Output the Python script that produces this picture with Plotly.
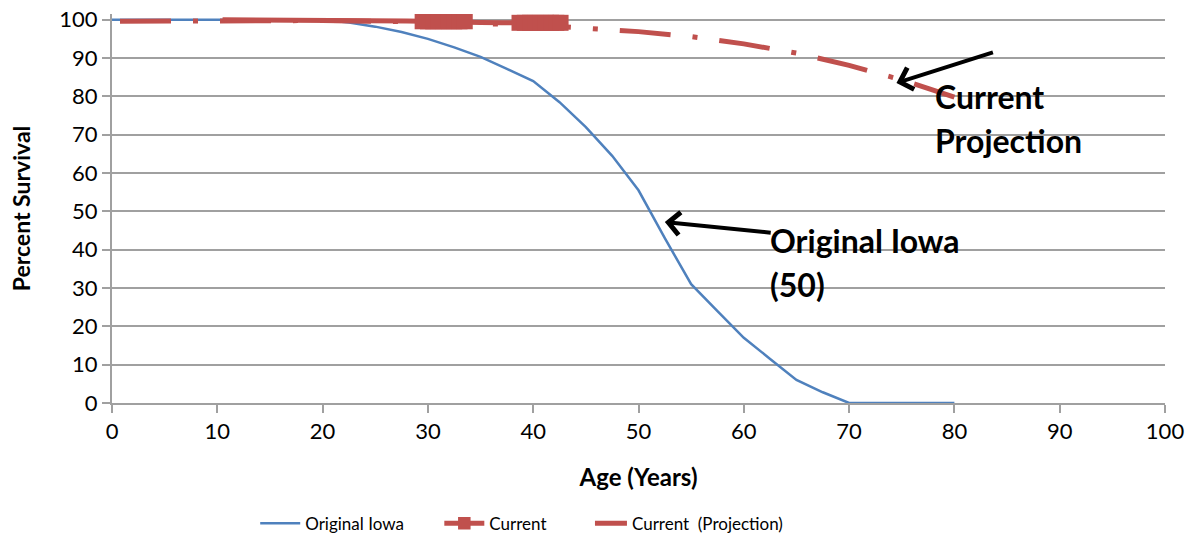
import plotly.graph_objects as go

# Original Iowa (50) curve
iowa_age = [0, 20, 22.5, 25, 27.5, 30, 32.5, 35, 37.5, 40, 42.5, 45, 47.5, 50,
            52.5, 55, 57.5, 60, 62.5, 65, 67.5, 70, 80]
iowa_pct = [100, 100, 99.3, 98.2, 96.8, 95, 92.8, 90.3, 87.2, 84, 78.5, 72, 64.5, 55.5,
            43, 31, 24, 17, 11.5, 6, 2.8, 0, 0]

# Current (observed) curve
current_age = [10.5, 27, 28, 29.5, 30, 30.5, 31, 31.5, 32, 32.5, 33, 33.5, 35, 37,
               38.7, 39.2, 39.7, 40.2, 40.7, 41.2, 41.7, 42.2, 42.6]
current_pct = [100, 100, 99.7, 99.6, 99.6, 99.6, 99.6, 99.6, 99.6, 99.6, 99.6, 99.6, 99.3, 99.2,
               99.2, 99.2, 99.2, 99.2, 99.2, 99.2, 99.2, 99.2, 99.2]

# Current (Projection) curve
proj_age = [0, 10, 20, 30, 40, 45, 50, 55, 60, 65, 70, 75, 80]
proj_pct = [99.6, 99.8, 99.8, 99.4, 98.6, 97.8, 96.9, 95.6, 93.7, 91.3, 88.1, 84.3, 79.8]

BLUE = '#4F81BD'
RED = '#C0504D'
GRID = '#A0A0A0'
FONT = 'Lato'
PAD = '\u00a0' * 7  # spacing between legend entries

# only the dense stretches of the Current series show their square markers
marker_sizes = [16 if (29 <= a <= 34 or 38.5 <= a <= 43) else 0 for a in current_age]

fig = go.Figure()
fig.add_trace(go.Scatter(x=iowa_age, y=iowa_pct, mode='lines', name='Original Iowa' + PAD,
                         legendrank=1, line=dict(color=BLUE, width=2.5)))
fig.add_trace(go.Scatter(x=proj_age, y=proj_pct, mode='lines', name='Current\u00a0\u00a0(Projection)',
                         legendrank=3,
                         line=dict(color=RED, width=5, dash='0px,8px,51px,22px,5px,14px')))
fig.add_trace(go.Scatter(x=current_age, y=current_pct, mode='lines+markers', name='Current' + PAD,
                         legendrank=2, line=dict(color=RED, width=5),
                         marker=dict(symbol='square', color=RED, size=marker_sizes, opacity=1,
                                     line=dict(width=0))))

ann_font = dict(family=FONT, size=32, color='black')
annotations = [
    dict(x=74.5, y=83.5, ax=83.8, ay=91.6, axref='x', ayref='y', xref='x', yref='y',
         showarrow=True, arrowhead=4, arrowwidth=4, arrowsize=1.1, arrowcolor='black', text=''),
    dict(x=52.5, y=47.2, ax=62.7, ay=44.4, axref='x', ayref='y', xref='x', yref='y',
         showarrow=True, arrowhead=4, arrowwidth=4, arrowsize=1.1, arrowcolor='black', text=''),
    dict(x=78.0, y=79.9, text='<b>Current</b>', showarrow=False, xanchor='left', yanchor='middle', font=ann_font),
    dict(x=78.0, y=68.4, text='<b>Projection</b>', showarrow=False, xanchor='left', yanchor='middle', font=ann_font),
    dict(x=62.3, y=42.5, text='<b>Original Iowa</b>', showarrow=False, xanchor='left', yanchor='middle', font=ann_font),
    dict(x=62.3, y=30.8, text='<b>(50)</b>', showarrow=False, xanchor='left', yanchor='middle', font=ann_font),
]

fig.update_layout(
    width=1192, height=544,
    paper_bgcolor='white', plot_bgcolor='white',
    margin=dict(l=112, r=27, t=14, b=141, autoexpand=False),
    font=dict(family=FONT, size=22, color='black'),
    showlegend=True,
    legend=dict(orientation='h', x=0.136, xanchor='left', y=-0.31, yanchor='middle',
                font=dict(family=FONT, size=17, color='black'), itemwidth=40),
    annotations=annotations,
)
fig.update_xaxes(range=[0, 100], tickvals=list(range(0, 101, 10)), showgrid=False, zeroline=False,
                 automargin=False, ticklabeloverflow='allow', showline=True, linecolor=GRID,
                 linewidth=2, ticks='outside', ticklen=8, tickcolor=GRID, tickwidth=2,
                 tickfont=dict(size=22),
                 title=dict(text='<b>Age (Years)</b>', font=dict(size=24), standoff=26))
fig.update_yaxes(range=[0, 101.5], tickvals=list(range(0, 101, 10)), showgrid=True, gridcolor=GRID,
                 gridwidth=2, zeroline=False, automargin=False, ticklabeloverflow='allow',
                 showline=True, linecolor=GRID, linewidth=2, ticks='outside', ticklen=8,
                 tickcolor=GRID, tickwidth=2, tickfont=dict(size=22),
                 title=dict(text='<b>Percent Survival</b>', font=dict(size=23), standoff=22))

# drop the default page margin so the figure fills the window exactly
fig.write_html("out.html", config={'displayModeBar': False},
               post_script="document.body.style.margin = '0';")
